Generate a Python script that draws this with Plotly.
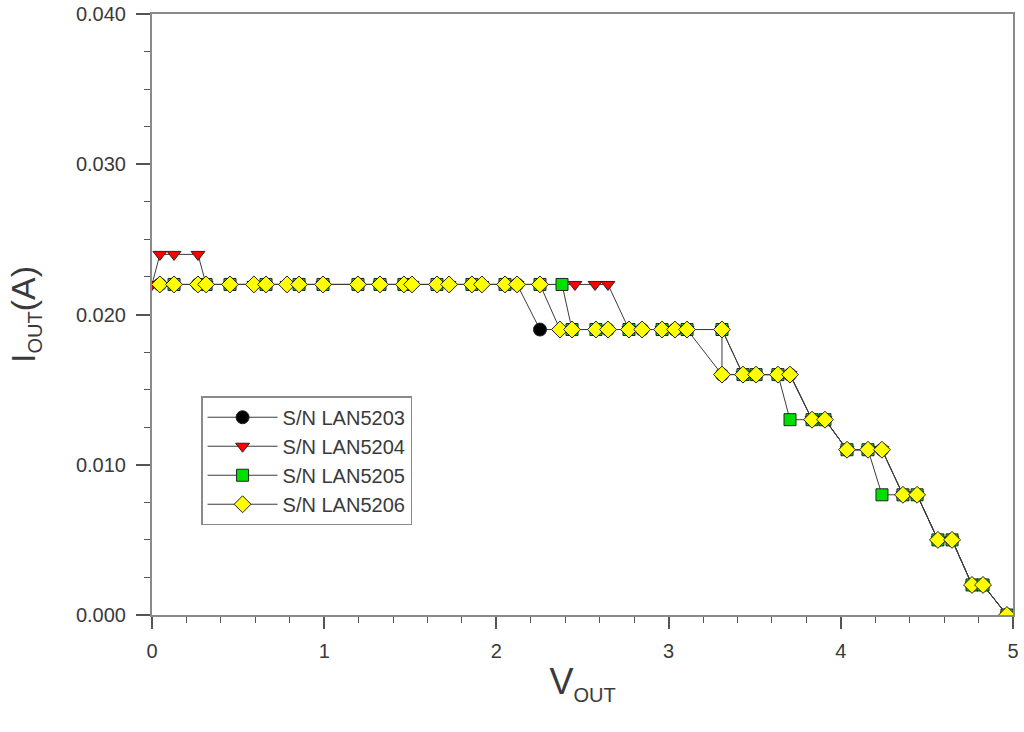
import plotly.graph_objects as go

# Output voltage (V) and output current (A) for each unit
v_lan5203 = [0.046, 0.267, 0.453, 0.662, 0.854, 1.196, 1.463, 1.655, 1.858, 2.050, 2.120,
             2.253, 2.439, 2.648, 2.846, 3.037, 3.107,
             3.310, 3.508, 3.705,
             3.833, 3.908,
             4.036, 4.239,
             4.361, 4.443,
             4.564, 4.646,
             4.762, 4.826,
             4.965]
i_lan5203 = [0.022, 0.022, 0.022, 0.022, 0.022, 0.022, 0.022, 0.022, 0.022, 0.022, 0.022,
             0.019, 0.019, 0.019, 0.019, 0.019, 0.019,
             0.016, 0.016, 0.016,
             0.013, 0.013,
             0.011, 0.011,
             0.008, 0.008,
             0.005, 0.005,
             0.002, 0.002,
             0.000]

v_lan5204 = [0.000, 0.046, 0.128, 0.267, 0.314,
             0.592, 0.784, 0.993, 1.324, 1.510, 1.725, 1.916, 2.120,
             2.456, 2.573, 2.648,
             2.770, 2.962, 3.107, 3.310,
             3.432, 3.635, 3.705,
             3.833, 3.908,
             4.036, 4.158, 4.239,
             4.361, 4.443,
             4.564, 4.646,
             4.762, 4.826,
             4.965]
i_lan5204 = [0.022, 0.024, 0.024, 0.024, 0.022,
             0.022, 0.022, 0.022, 0.022, 0.022, 0.022, 0.022, 0.022,
             0.022, 0.022, 0.022,
             0.019, 0.019, 0.019, 0.019,
             0.016, 0.016, 0.016,
             0.013, 0.013,
             0.011, 0.011, 0.011,
             0.008, 0.008,
             0.005, 0.005,
             0.002, 0.002,
             0.000]

v_lan5205 = [0.128, 0.314, 0.453, 0.662, 0.854, 0.993, 1.196, 1.324, 1.463, 1.655, 1.858, 2.050, 2.253, 2.381,
             2.439, 2.578, 2.770, 2.962, 3.107, 3.310,
             3.432, 3.508, 3.635,
             3.705, 3.833, 3.908,
             4.036, 4.158,
             4.239, 4.361, 4.443,
             4.564, 4.646,
             4.762, 4.826,
             4.965]
i_lan5205 = [0.022, 0.022, 0.022, 0.022, 0.022, 0.022, 0.022, 0.022, 0.022, 0.022, 0.022, 0.022, 0.022, 0.022,
             0.019, 0.019, 0.019, 0.019, 0.019, 0.019,
             0.016, 0.016, 0.016,
             0.013, 0.013, 0.013,
             0.011, 0.011,
             0.008, 0.008, 0.008,
             0.005, 0.005,
             0.002, 0.002,
             0.000]

v_lan5206 = [0.046, 0.128, 0.267, 0.314, 0.453, 0.592, 0.662, 0.784, 0.854, 0.993, 1.196,
             1.324, 1.463, 1.510, 1.655, 1.725, 1.858, 1.916, 2.050, 2.120, 2.253,
             2.369, 2.439, 2.578, 2.648, 2.770, 2.846, 2.962, 3.037, 3.107, 3.310,
             3.310, 3.432, 3.508, 3.635, 3.705,
             3.833, 3.908,
             4.036, 4.158, 4.239,
             4.361, 4.443,
             4.564, 4.646,
             4.762, 4.826,
             4.965]
i_lan5206 = [0.022, 0.022, 0.022, 0.022, 0.022, 0.022, 0.022, 0.022, 0.022, 0.022, 0.022,
             0.022, 0.022, 0.022, 0.022, 0.022, 0.022, 0.022, 0.022, 0.022, 0.022,
             0.019, 0.019, 0.019, 0.019, 0.019, 0.019, 0.019, 0.019, 0.019, 0.019,
             0.016, 0.016, 0.016, 0.016, 0.016,
             0.013, 0.013,
             0.011, 0.011, 0.011,
             0.008, 0.008,
             0.005, 0.005,
             0.002, 0.002,
             0.000]

series = [
    ("S/N LAN5203", v_lan5203, i_lan5203, "circle", "#000000", 13),
    ("S/N LAN5204", v_lan5204, i_lan5204, "triangle-down", "#ff0000", 12),
    ("S/N LAN5205", v_lan5205, i_lan5205, "square", "#00e000", 12),
    ("S/N LAN5206", v_lan5206, i_lan5206, "diamond", "#ffff00", 13),
]

FONT = "Liberation Sans, Arial, sans-serif"
AXIS_GRAY = "#8a8a8a"
TEXT = "#3a3a3a"

fig = go.Figure()
for name, v, i, sym, col, size in series:
    fig.add_trace(go.Scatter(
        x=v, y=i, name=name, mode="lines+markers",
        line=dict(color="#3c3c3c", width=1),
        marker=dict(symbol=sym, color=col, size=size,
                    line=dict(color="#222222", width=1)),
    ))

fig.update_layout(
    width=1024, height=732,
    margin=dict(l=152, r=11, t=14, b=117, autoexpand=False),
    paper_bgcolor="white", plot_bgcolor="white",
    font=dict(family=FONT, color=TEXT, size=20),
    showlegend=True,
    legend=dict(
        x=0.057, y=0.364, xanchor="left", yanchor="top",
        bgcolor="white", bordercolor=AXIS_GRAY, borderwidth=1.5,
        font=dict(family=FONT, size=20, color=TEXT),
        itemwidth=70,
    ),
)

fig.update_xaxes(
    range=[0, 5], dtick=1, tick0=0, automargin=False,
    showgrid=False, zeroline=False,
    showline=True, linecolor=AXIS_GRAY, linewidth=2, mirror=True,
    ticks="outside", ticklen=12, tickwidth=1.5, tickcolor="#555555",
    ticklabelstandoff=5,
    minor=dict(dtick=0.2, ticks="outside", ticklen=6, tickwidth=1, tickcolor="#555555"),
    tickfont=dict(size=20, color=TEXT),
    title=dict(text="V<sub><span style='font-size:20px'>OUT</span></sub>",
               font=dict(size=36, color=TEXT), standoff=8),
)

fig.update_yaxes(
    range=[0, 0.040], dtick=0.010, tick0=0, tickformat=".3f", automargin=False,
    showgrid=False, zeroline=False,
    showline=True, linecolor=AXIS_GRAY, linewidth=2, mirror=True,
    ticks="outside", ticklen=14, tickwidth=1.5, tickcolor="#555555",
    ticklabelstandoff=6,
    minor=dict(dtick=0.0025, ticks="outside", ticklen=6, tickwidth=1, tickcolor="#555555"),
    tickfont=dict(size=20, color=TEXT),
    title=dict(text="I<sub><span style='font-size:20px'>OUT</span></sub>(A)",
               font=dict(size=34, color=TEXT), standoff=30),
)

fig.write_html("out.html")
